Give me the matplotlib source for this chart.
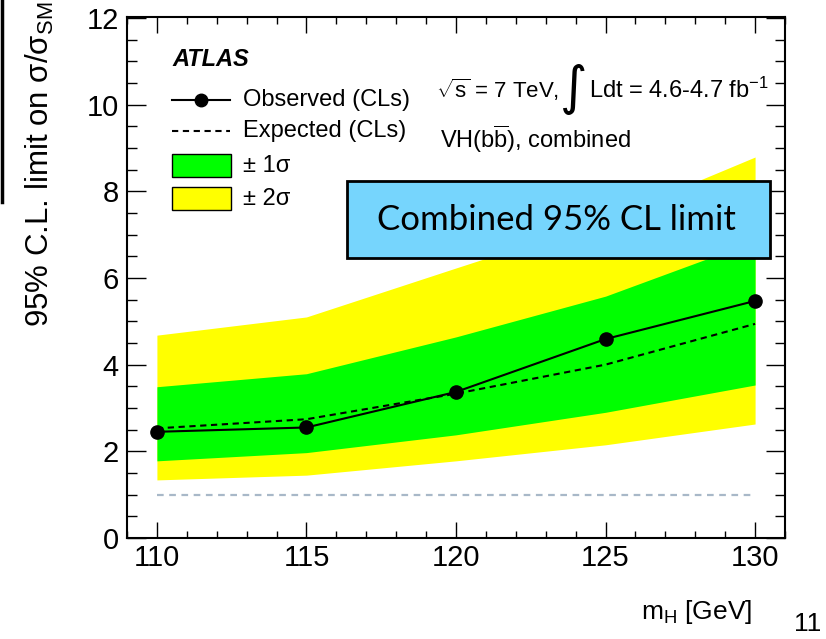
import matplotlib
matplotlib.use('Agg')
import matplotlib.pyplot as plt
from matplotlib.patches import Rectangle
from matplotlib.lines import Line2D
from matplotlib.ticker import MultipleLocator

plt.rcParams['font.family'] = ['Liberation Sans', 'DejaVu Sans']
plt.rcParams['mathtext.fontset'] = 'custom'
plt.rcParams['mathtext.rm'] = 'Liberation Sans'
plt.rcParams['mathtext.it'] = 'Liberation Sans:italic'
plt.rcParams['mathtext.bf'] = 'Liberation Sans:bold'

# Higgs mass points and 95% CL limits on sigma/sigma_SM
mass = [110, 115, 120, 125, 130]
observed = [2.45, 2.55, 3.37, 4.59, 5.47]
expected = [2.53, 2.74, 3.33, 4.00, 4.94]
band1_lo = [1.78, 1.97, 2.38, 2.90, 3.53]
band1_hi = [3.49, 3.79, 4.64, 5.58, 6.85]
band2_lo = [1.34, 1.45, 1.78, 2.15, 2.63]
band2_hi = [4.68, 5.10, 6.23, 7.35, 8.79]
sm_ref = 1.0

W, H = 826, 639
fig = plt.figure(figsize=(W / 100, H / 100), dpi=100)


def fx(px):
    return px / W


def fy(py):
    return 1 - py / H


ax = fig.add_axes([fx(127), fy(538), 658 / W, 521 / H])

GREEN = '#00ff00'
YELLOW = '#ffff00'

ax.fill_between(mass, band2_lo, band2_hi, color=YELLOW, lw=0, zorder=1)
ax.fill_between(mass, band1_lo, band1_hi, color=GREEN, lw=0, zorder=2)
ax.plot([mass[0], mass[-1]], [sm_ref, sm_ref], color='#a8b8c8', lw=1.6,
        ls=(0, (3, 2.5)), zorder=3)
ax.plot(mass, expected, color='black', lw=1.5, ls=(0, (3, 2.2)), zorder=4)
ax.plot(mass, observed, color='black', lw=1.5, marker='o', ms=9.5, zorder=5)

ax.set_xlim(109, 131)
ax.set_ylim(0, 12.02)
ax.xaxis.set_major_locator(MultipleLocator(5))
ax.xaxis.set_minor_locator(MultipleLocator(1))
ax.yaxis.set_major_locator(MultipleLocator(2))
ax.yaxis.set_minor_locator(MultipleLocator(0.5))
ax.tick_params(which='both', direction='in', top=True, right=True,
               width=1.0, labelsize=21)
ax.xaxis.set_tick_params(which='major', length=11.5, pad=4)
ax.xaxis.set_tick_params(which='minor', length=5)
ax.yaxis.set_tick_params(which='major', length=14, pad=6)
ax.yaxis.set_tick_params(which='minor', length=7)
for s in ax.spines.values():
    s.set_linewidth(1.5)

# axis titles
fig.text(fx(40), fy(2), '95% C.L. limit on σ/σ$_{\\mathrm{SM}}$', rotation=90,
         ha='center', va='top', fontsize=22.5)
fig.text(fx(752), fy(612), 'm$_{\\mathrm{H}}$ [GeV]', ha='right', va='center',
         fontsize=19)
fig.text(fx(794), fy(624), '11', ha='left', va='center', fontsize=19)

# slide edge
fig.add_artist(Line2D([fx(1.5), fx(1.5)], [fy(0), fy(202)], color='black', lw=2.5,
                      transform=fig.transFigure))

# legend block
fig.text(fx(172), fy(60), 'ATLAS', fontsize=17, fontweight='bold', fontstyle='italic',
         ha='left', va='center')
fig.add_artist(Line2D([fx(172), fx(230)], [fy(100), fy(100)], color='black', lw=1.5,
                      transform=fig.transFigure))
fig.add_artist(Line2D([fx(201)], [fy(100)], color='black', marker='o', ms=9,
                      transform=fig.transFigure))
fig.text(fx(243), fy(100), 'Observed (CLs)', fontsize=17, ha='left', va='center')
fig.add_artist(Line2D([fx(172), fx(230)], [fy(131), fy(131)], color='black', lw=1.5,
                      ls=(0, (3, 2.2)), transform=fig.transFigure))
fig.text(fx(243), fy(131), 'Expected (CLs)', fontsize=17, ha='left', va='center')
fig.add_artist(Rectangle((fx(172), fy(177)), fx(59), 23 / H, facecolor=GREEN,
                         edgecolor='black', lw=1, transform=fig.transFigure))
fig.text(fx(243), fy(166), '± 1σ', fontsize=17, ha='left', va='center')
fig.add_artist(Rectangle((fx(172), fy(210)), fx(59), 23 / H, facecolor=YELLOW,
                         edgecolor='black', lw=1, transform=fig.transFigure))
fig.text(fx(243), fy(199), '± 2σ', fontsize=17, ha='left', va='center')

# energy / luminosity labels
fig.text(fx(436), fy(90), '$\\sqrt{\\mathrm{s}}$ = 7 TeV,', fontsize=16,
         ha='left', va='center')
fig.text(fx(574), fy(89), '∫', fontsize=38, ha='center', va='center',
         family=['DejaVu Sans'])
fig.text(fx(589), fy(90), 'Ldt = 4.6-4.7 fb$^{\\mathrm{-1}}$', fontsize=17,
         ha='left', va='center')
fig.text(fx(440), fy(139), 'VH(b$\\overline{\\mathrm{b}}$), combined', fontsize=17,
         ha='left', va='center')

# highlight box
fig.add_artist(Rectangle((fx(347), fy(258)), (770 - 347) / W, (258 - 181) / H,
                         facecolor='#76d5fd', edgecolor='black', lw=2,
                         transform=fig.transFigure))
fig.text(fx(556), fy(220), 'Combined 95% CL limit', fontsize=25, ha='center',
         va='center', family=['Lato', 'DejaVu Sans'])

fig.savefig('out.png', dpi=100)
